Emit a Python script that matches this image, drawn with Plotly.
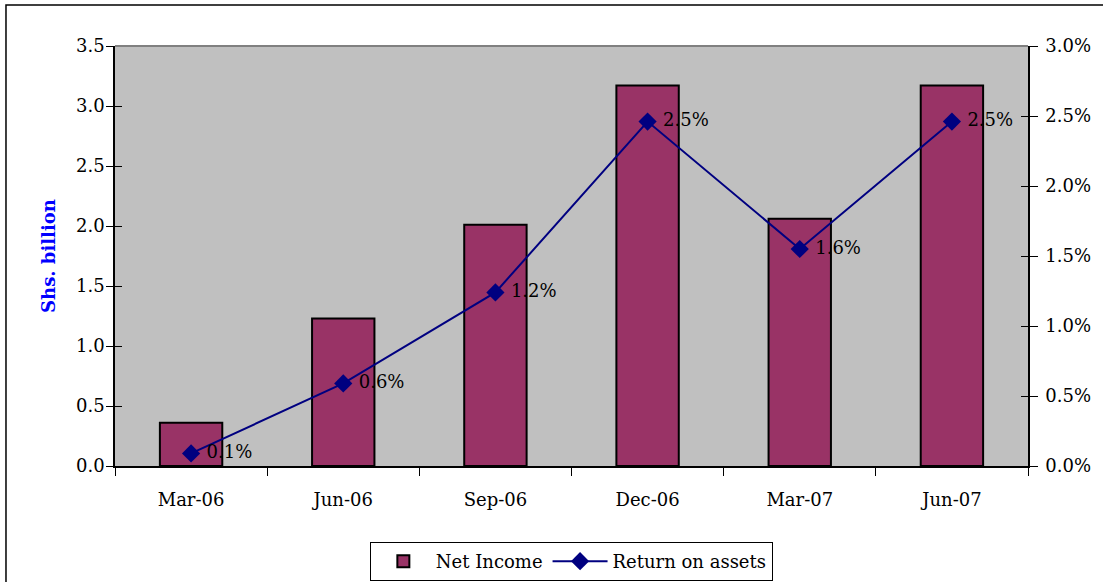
import plotly.graph_objects as go

# Quarterly figures
quarters = ["Mar-06", "Jun-06", "Sep-06", "Dec-06", "Mar-07", "Jun-07"]
net_income = [0.36, 1.23, 2.01, 3.17, 2.06, 3.17]          # Shs. billion
return_on_assets = [0.09, 0.59, 1.24, 2.46, 1.55, 2.46]    # percent

left_ticks = [0, 0.5, 1.0, 1.5, 2.0, 2.5, 3.0, 3.5]
right_ticks = [0, 0.5, 1.0, 1.5, 2.0, 2.5, 3.0]
right_tick_text = [f"{v:.1f}%" for v in right_ticks]

FONT = "DejaVu Serif"
roa_labels = [f" {v:.1f}%" for v in return_on_assets]

fig = go.Figure()

fig.add_trace(go.Bar(
    x=quarters, y=net_income, name="Net Income",
    marker=dict(color="#993366", line=dict(color="black", width=2)),
    width=0.41, yaxis="y",
))

fig.add_trace(go.Scatter(
    x=quarters, y=return_on_assets, name="Return on assets",
    mode="lines+markers+text", yaxis="y2",
    line=dict(color="#000080", width=2),
    marker=dict(symbol="diamond", size=14, color="#000080"),
    text=roa_labels, textposition="middle right",
    textfont=dict(family=FONT, size=18, color="black"),
))

# invisible traces so the inner-tick overlay axes are drawn
fig.add_trace(go.Scatter(x=[quarters[0]], y=[0], yaxis="y3", mode="markers",
                         marker=dict(opacity=0), showlegend=False, hoverinfo="skip"))
fig.add_trace(go.Scatter(x=[quarters[0]], y=[0], yaxis="y4", mode="markers",
                         marker=dict(opacity=0), showlegend=False, hoverinfo="skip"))

common_y = dict(showgrid=False, zeroline=False, showline=True, linecolor="black",
                linewidth=1.5, tickcolor="black", tickwidth=1.2, automargin=False)

fig.update_layout(
    width=1103, height=582,
    margin=dict(l=115, r=75, t=46, b=116),
    paper_bgcolor="white", plot_bgcolor="#C0C0C0",
    font=dict(family=FONT, size=18, color="black"),
    showlegend=True,
    legend=dict(orientation="h", x=0.518, xanchor="center",
                xref="container", yref="container", y=1 - 542 / 582, yanchor="top",
                bordercolor="black", borderwidth=1, bgcolor="white",
                font=dict(family=FONT, size=18), itemwidth=55, tracegroupgap=0),
    xaxis=dict(type="category", tickson="boundaries", ticks="outside", ticklen=8,
               tickcolor="black", tickwidth=1.2, showline=True, linecolor="black",
               linewidth=1.5, showgrid=False, ticklabelstandoff=17,
               range=[-0.5, 5.5], automargin=False),
    yaxis=dict(range=[0, 3.5], tickvals=left_ticks, tickformat=".1f",
               ticks="outside", ticklen=7, ticklabelstandoff=-2,
               title=dict(text="<b>Shs. billion</b>", font=dict(color="#0000FF", size=18,
                                                              family=FONT), standoff=16),
               **common_y),
    yaxis2=dict(range=[0, 3.0], tickvals=right_ticks, ticktext=right_tick_text,
                overlaying="y", side="right", ticks="outside", ticklen=8,
                ticklabelstandoff=4, **common_y),
    yaxis3=dict(range=[0, 3.5], tickvals=left_ticks, overlaying="y", side="left",
                ticks="inside", ticklen=7, showticklabels=False, **common_y),
    yaxis4=dict(range=[0, 3.0], tickvals=right_ticks, overlaying="y", side="right",
                ticks="inside", ticklen=7, showticklabels=False, **common_y),
    shapes=[
        # grey top edge of the plot area
        dict(type="line", xref="paper", yref="paper", x0=0, x1=1, y0=1, y1=1,
             line=dict(color="#808080", width=2)),
        # outer chart frame
        dict(type="rect", xref="paper", yref="paper", x0=-0.1194, x1=1.4,
             y0=-0.6, y1=1.0976, line=dict(color="black", width=1.5)),
    ],
)

fig.write_html("out.html")
